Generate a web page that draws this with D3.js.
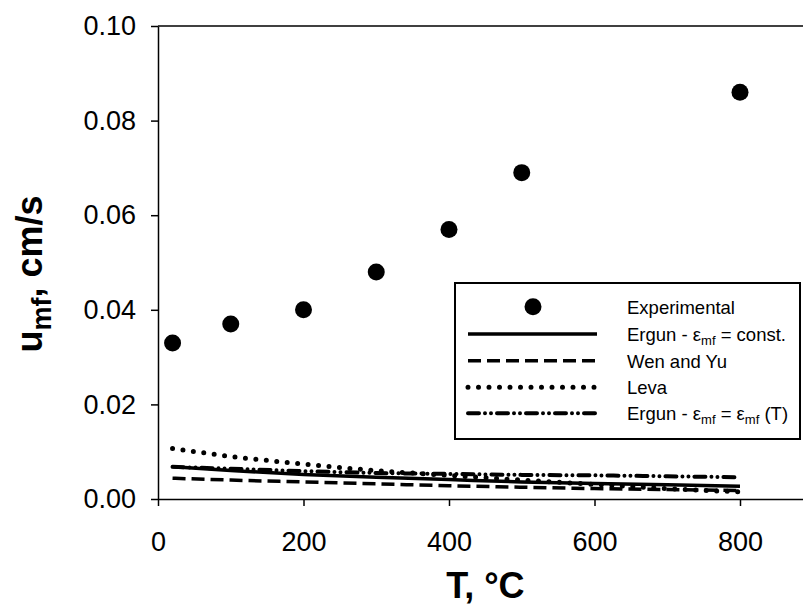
<!DOCTYPE html>
<html>
<head>
<meta charset="utf-8">
<script src="https://cdn.jsdelivr.net/npm/d3@7"></script>
<style>
  html, body { margin: 0; padding: 0; background: #fff; }
  svg { display: block; font-family: Arial, "Liberation Sans", sans-serif; }
</style>
</head>
<body>
<svg id="chart" width="803" height="613"></svg>
<script>
// ---- data ----
const expT = [20, 100, 200, 300, 400, 500, 800];
const expU = [0.033, 0.037, 0.040, 0.048, 0.057, 0.069, 0.086];

const modelT = [20, 100, 200, 300, 400, 500, 600, 700, 800];
const ergunConst = [0.0068, 0.0060, 0.0052, 0.0046, 0.0041, 0.0036, 0.0033, 0.0030, 0.0027];
const wenYu      = [0.0044, 0.0040, 0.0036, 0.0032, 0.0028, 0.0025, 0.0022, 0.0020, 0.0018];
const leva       = [0.0107, 0.0090, 0.0074, 0.0060, 0.0050, 0.0040, 0.0031, 0.0022, 0.0015];
const ergunT     = [0.0068, 0.0064, 0.0059, 0.0055, 0.0053, 0.0051, 0.0050, 0.0048, 0.0046];

const xTicks = [0, 200, 400, 600, 800];
const yTicks = [0.00, 0.02, 0.04, 0.06, 0.08, 0.10];

// ---- drawing ----
const svg = d3.select("#chart");
const x = d3.scaleLinear().domain([0, 900]).range([158, 812.75]);
const y = d3.scaleLinear().domain([0, 0.10]).range([499, 26]);

const styles = {
  solid:   { width: 3.5, dash: null, cap: "butt" },
  dashed:  { width: 3.5, dash: "13,6", cap: "butt" },
  dotted:  { width: 5, dash: "0,10.5", cap: "round" },
  dashdot: { width: 4, dash: "11,6,0,6,0,6", cap: "round" }
};

const series = [
  { name: "ergunConst", values: ergunConst, style: styles.solid },
  { name: "wenYu", values: wenYu, style: styles.dashed },
  { name: "leva", values: leva, style: styles.dotted },
  { name: "ergunT", values: ergunT, style: styles.dashdot }
];

const line = d3.line()
  .x(d => x(d[0]))
  .y(d => y(d[1]))
  .curve(d3.curveMonotoneX);

series.forEach(s => {
  svg.append("path")
    .datum(modelT.map((t, i) => [t, s.values[i]]))
    .attr("d", line)
    .attr("fill", "none")
    .attr("stroke", "#000")
    .attr("stroke-width", s.style.width)
    .attr("stroke-dasharray", s.style.dash)
    .attr("stroke-linecap", s.style.cap);
});

svg.selectAll("circle.exp")
  .data(expT.map((t, i) => [t, expU[i]]))
  .join("circle")
  .attr("class", "exp")
  .attr("cx", d => x(d[0]))
  .attr("cy", d => y(d[1]))
  .attr("r", 8.5)
  .attr("fill", "#000");

// top frame
svg.append("line")
  .attr("x1", x(0)).attr("x2", x(900))
  .attr("y1", y(0.10)).attr("y2", y(0.10))
  .attr("stroke", "#000").attr("stroke-width", 1.5);

// axes
const xAxis = svg.append("g")
  .attr("transform", `translate(0,${y(0)})`)
  .call(d3.axisBottom(x).tickValues(xTicks).tickSize(7).tickSizeOuter(0).tickPadding(26));
const yAxis = svg.append("g")
  .attr("transform", `translate(${x(0)},0)`)
  .call(d3.axisLeft(y).tickValues(yTicks).tickFormat(d3.format(".2f")).tickSize(7).tickSizeOuter(0).tickPadding(15));

[xAxis, yAxis].forEach(g => {
  g.select(".domain").attr("stroke", "#000").attr("stroke-width", 1.5);
  g.selectAll(".tick line").attr("stroke", "#000").attr("stroke-width", 1.5);
  g.selectAll(".tick text")
    .attr("fill", "#000")
    .style("font-size", "27px")
    .style("font-family", "Arial, 'Liberation Sans', sans-serif");
});

// axis titles
svg.append("text")
  .attr("x", x(450)).attr("y", 598)
  .attr("text-anchor", "middle")
  .style("font-size", "36px").style("font-weight", "bold")
  .text("T, °C");

const yt = svg.append("text")
  .attr("transform", "translate(42,274) rotate(-90)")
  .attr("text-anchor", "middle")
  .style("font-size", "36px").style("font-weight", "bold");
yt.append("tspan").text("u");
yt.append("tspan").attr("dy", 9).style("font-size", "27px").text("mf");
yt.append("tspan").attr("dy", -9).text(", cm/s");

// legend
const lg = svg.append("g");
lg.append("rect")
  .attr("x", 455).attr("y", 283).attr("width", 345).attr("height", 156)
  .attr("fill", "#fff").attr("stroke", "#000").attr("stroke-width", 2);

const rowY = [306.7, 334, 360.7, 387.3, 413.3];
const lx1 = 468, lx2 = 597, tx = 627;

lg.append("circle").attr("cx", 533).attr("cy", rowY[0]).attr("r", 8.5).attr("fill", "#000");

const legendStyles = [styles.solid, styles.dashed, styles.dotted, styles.dashdot];
legendStyles.forEach((st, i) => {
  lg.append("line")
    .attr("x1", lx1).attr("x2", lx2)
    .attr("y1", rowY[i + 1]).attr("y2", rowY[i + 1])
    .attr("stroke", "#000")
    .attr("stroke-width", st.width)
    .attr("stroke-dasharray", st.dash)
    .attr("stroke-linecap", st.cap);
});

function legendText(yy) {
  return lg.append("text").attr("x", tx).attr("y", yy + 7)
    .style("font-size", "18.5px").attr("fill", "#000");
}
legendText(rowY[0]).text("Experimental");
let t1 = legendText(rowY[1]);
t1.append("tspan").text("Ergun - ε");
t1.append("tspan").attr("dy", 4).style("font-size", "13px").text("mf");
t1.append("tspan").attr("dy", -4).text(" = const.");
legendText(rowY[2]).text("Wen and Yu");
legendText(rowY[3]).text("Leva");
let t4 = legendText(rowY[4]);
t4.append("tspan").text("Ergun - ε");
t4.append("tspan").attr("dy", 4).style("font-size", "13px").text("mf");
t4.append("tspan").attr("dy", -4).text(" = ε");
t4.append("tspan").attr("dy", 4).style("font-size", "13px").text("mf");
t4.append("tspan").attr("dy", -4).text(" (T)");
</script>
</body>
</html>
